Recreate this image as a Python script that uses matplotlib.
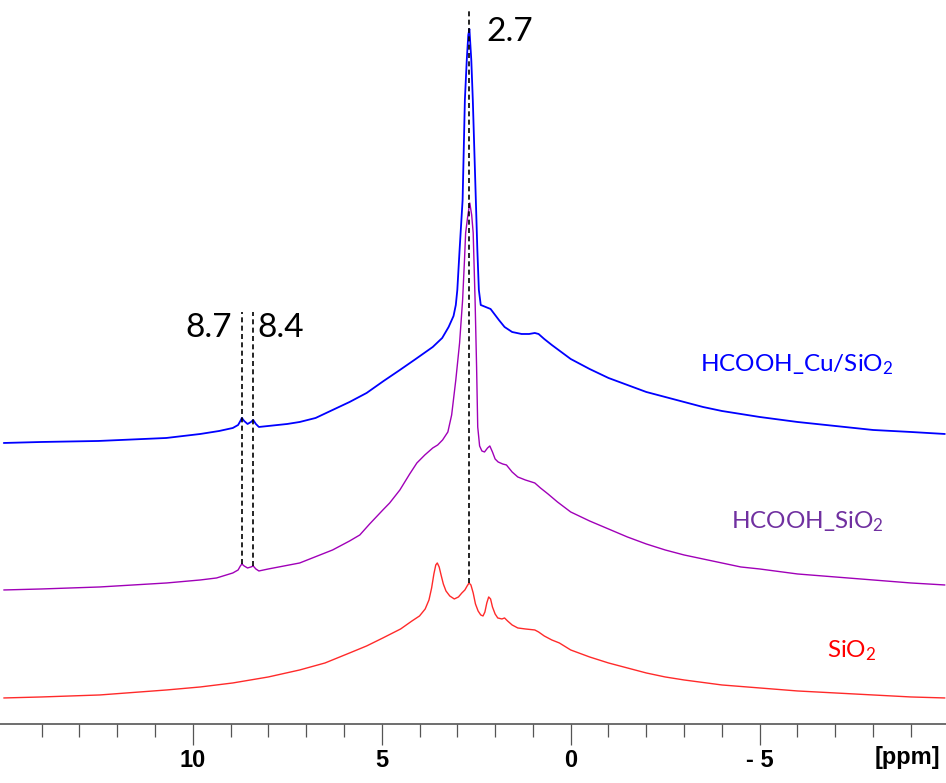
import matplotlib
matplotlib.use("Agg")
import matplotlib.pyplot as plt
from matplotlib.ticker import FixedLocator, FixedFormatter

plt.rcParams['mathtext.fontset'] = 'custom'
plt.rcParams['mathtext.rm'] = 'Lato'
plt.rcParams['mathtext.it'] = 'Lato'

# ---- data (ppm, intensity in arbitrary units) ----
cu_ppm = [15.0, 14.0, 12.5, 10.7, 9.8, 9.3, 8.94, 8.8, 8.74, 8.7, 8.64, 8.55, 8.46, 8.4,
          8.33, 8.25, 8.0, 7.5, 7.17, 6.75, 6.3, 5.85, 5.4, 4.95, 4.52, 4.1, 3.65, 3.4,
          3.23, 3.1, 3.04, 3.0, 2.94, 2.86, 2.83, 2.80, 2.75, 2.71, 2.68, 2.63, 2.59,
          2.55, 2.51, 2.47, 2.43, 2.38, 2.25, 2.12, 2.0, 1.9, 1.75, 1.55, 1.3, 1.1,
          0.95, 0.85, 0.7, 0.5, 0.25, 0.0, -0.5, -1.0, -1.5, -2.0, -2.5, -3.0, -3.5,
          -4.0, -5.0, -6.0, -7.0, -8.0, -9.0, -9.9]
cu_int = [281, 282, 283, 286, 290, 293, 296, 299, 303, 306, 303, 300, 302, 304,
          300, 297, 298, 300, 302, 306, 314, 322, 331, 343, 354, 365, 377, 386,
          397, 408, 419, 434, 474, 524, 574, 624, 664, 689, 695, 664, 624,
          574, 524, 474, 434, 419, 417, 415, 409, 404, 397, 392, 390, 390,
          391, 390, 385, 379, 372, 365, 355, 346, 339, 332, 327, 322, 317,
          313, 307, 302, 298, 294, 292, 290]

hs_ppm = [15.0, 14.0, 12.46, 10.69, 9.8, 9.37, 8.94, 8.8, 8.74, 8.7, 8.64, 8.55, 8.46,
          8.4, 8.33, 8.25, 8.0, 7.17, 6.3, 5.85, 5.58, 5.32, 4.97, 4.79, 4.52, 4.26,
          4.07, 3.86, 3.65, 3.52, 3.39, 3.25, 3.15, 3.04, 2.94, 2.86, 2.81, 2.78, 2.72,
          2.67, 2.62, 2.58, 2.56, 2.53, 2.49, 2.46, 2.41, 2.35, 2.28, 2.2, 2.14, 2.07,
          2.0, 1.92, 1.8, 1.7, 1.55, 1.4, 1.2, 0.95, 0.8, 0.6, 0.35, 0.0, -0.5, -1.0,
          -1.5, -2.0, -2.5, -3.0, -3.5, -4.0, -4.5, -5.0, -6.0, -7.0, -8.0, -9.0, -9.9]
hs_int = [134, 135, 137, 141, 144, 146, 151, 154, 158, 160, 158, 156, 157,
          158, 155, 153, 155, 161, 174, 183, 189, 200, 214, 221, 234, 250,
          261, 269, 276, 279, 284, 292, 309, 344, 381, 424, 464, 491, 509,
          521, 509, 491, 464, 424, 357, 297, 278, 273, 272, 276, 278, 272,
          265, 262, 260, 259, 252, 247, 244, 241, 236, 230, 222, 212, 203, 195,
          187, 180, 174, 169, 165, 161, 157, 155, 150, 147, 144, 141, 139]

si_ppm = [15.0, 14.0, 12.46, 10.69, 9.8, 8.94, 8.0, 7.17, 6.5, 5.85, 5.4, 4.97, 4.5,
          4.2, 4.0, 3.85, 3.75, 3.68, 3.62, 3.57, 3.53, 3.48, 3.43, 3.37, 3.3, 3.2,
          3.08, 2.97, 2.88, 2.8, 2.74, 2.69, 2.64, 2.58, 2.52, 2.45, 2.38, 2.32, 2.27,
          2.22, 2.17, 2.12, 2.07, 2.0, 1.93, 1.82, 1.75, 1.67, 1.55, 1.4, 1.2, 0.95,
          0.85, 0.7, 0.5, 0.3, 0.0, -0.5, -1.0, -1.5, -2.0, -2.5, -3.0, -4.0, -5.0,
          -6.0, -7.0, -8.0, -9.0, -9.9]
si_int = [26, 27, 29, 34, 37, 41, 47, 54, 61, 71, 78, 86, 95,
          103, 108, 115, 124, 136, 150, 159, 161, 157, 149, 140, 133, 128,
          125, 127, 131, 134, 138, 141, 139, 131, 120, 113, 109, 108, 112,
          121, 127, 125, 117, 110, 106, 105, 106, 103, 99, 96, 95, 94,
          92, 88, 84, 81, 74, 67, 61, 56, 51, 47, 44, 39, 36,
          33, 31, 29, 27, 26]

series_names = ["HCOOH_Cu/SiO$_2$", "HCOOH_SiO$_2$", "SiO$_2$"]
marked_ppm = [2.7, 8.7, 8.4]
marked_labels = ["2.7", "8.7", "8.4"]
tick_values = [10, 5, 0, -5]
tick_labels = ["10", "5", "0", "- 5"]
minor_values = list(range(14, -10, -1))

# ---- figure ----
fig = plt.figure(figsize=(9.46, 7.83), dpi=100)
ax = fig.add_axes([0.0, 0.0754, 1.0, 0.9246])
ax.set_xlim(15.1, -9.93)
ax.set_ylim(0, 724)

line_kw = dict(solid_joinstyle='round', solid_capstyle='round')
ax.plot(si_ppm, si_int, color='#FF2A2A', lw=1.0, **line_kw)
ax.plot(hs_ppm, hs_int, color='#A000B8', lw=1.0, **line_kw)
ax.plot(cu_ppm, cu_int, color='#0000FF', lw=1.3, **line_kw)

dash = dict(color='black', lw=1.2, linestyle=(0, (3, 2)))
ax.plot([marked_ppm[0], marked_ppm[0]], [141, 714], **dash)
ax.plot([marked_ppm[1], marked_ppm[1]], [160, 412], **dash)
ax.plot([marked_ppm[2], marked_ppm[2]], [158, 412], **dash)

numfont = dict(family=['Lato', 'DejaVu Sans'], fontsize=24, color='black')
ax.text(2.22, 692, marked_labels[0], ha='left', va='center', **numfont)
ax.text(8.97, 396, marked_labels[1], ha='right', va='center', **numfont)
ax.text(8.28, 396, marked_labels[2], ha='left', va='center', **numfont)

labfont = dict(family=['Lato', 'DejaVu Sans'], fontsize=17.5)
ax.text(-3.41, 359, series_names[0], color='#0000FF', ha='left', va='center', **labfont)
ax.text(-4.23, 202, series_names[1], color='#7030A0', ha='left', va='center', **labfont)
ax.text(-6.77, 73, series_names[2], color='#FF0000', ha='left', va='center', **labfont)

for s in ['left', 'right', 'top']:
    ax.spines[s].set_visible(False)
ax.spines['bottom'].set_color('#555555')
ax.spines['bottom'].set_linewidth(1.2)
ax.set_yticks([])
ax.xaxis.set_major_locator(FixedLocator(tick_values))
ax.xaxis.set_major_formatter(FixedFormatter(tick_labels))
ax.xaxis.set_minor_locator(FixedLocator(minor_values))
ax.tick_params(axis='x', which='major', direction='out', length=15, width=0.9,
               color='#555555', pad=3)
ax.tick_params(axis='x', which='minor', direction='out', length=9.5, width=0.9,
               color='#555555')
tickfont = ['Liberation Sans Narrow', 'Liberation Sans', 'DejaVu Sans']
for lab in ax.get_xticklabels():
    lab.set_fontfamily(tickfont)
    lab.set_fontweight('bold')
    lab.set_fontsize(17)
fig.text(0.994, 0.0332, "[ppm]", ha='right', va='center', family=tickfont,
         fontweight='bold', fontsize=17)

fig.savefig("out.png", dpi=100)
